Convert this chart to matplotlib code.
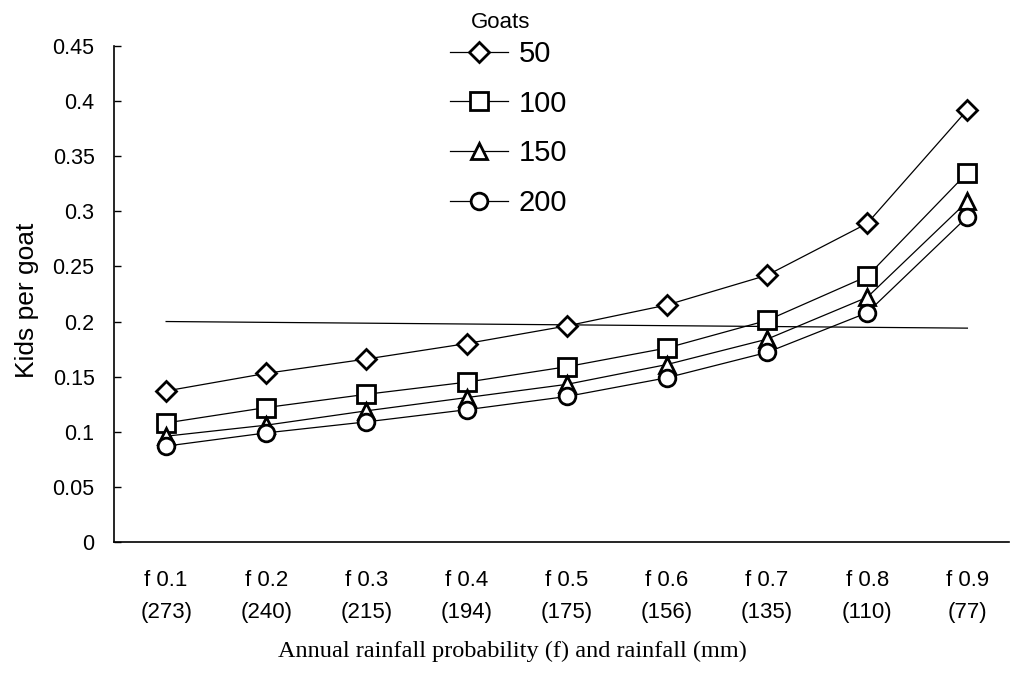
import numpy as np
import matplotlib.pyplot as plt

# Data
prob_labels = ['f 0.1', 'f 0.2', 'f 0.3', 'f 0.4', 'f 0.5', 'f 0.6', 'f 0.7', 'f 0.8', 'f 0.9']
rainfall_mm = ['273', '240', '215', '194', '175', '156', '135', '110', '77']

goats_50 = [0.137, 0.153, 0.166, 0.180, 0.196, 0.215, 0.242, 0.289, 0.392]
goats_100 = [0.108, 0.122, 0.134, 0.145, 0.159, 0.176, 0.201, 0.241, 0.335]
goats_150 = [0.096, 0.106, 0.119, 0.131, 0.143, 0.161, 0.184, 0.222, 0.309]
goats_200 = [0.087, 0.099, 0.109, 0.120, 0.132, 0.149, 0.172, 0.208, 0.295]

threshold = [0.200, 0.194]  # reference line, start and end

series = [goats_50, goats_100, goats_150, goats_200]
markers = ['D', 's', '^', 'o']
sizes = [10, 12.5, 12, 12]
labels = ['50', '100', '150', '200']

fig = plt.figure(figsize=(10.21, 6.75), dpi=100)
ax = fig.add_axes([0.1117, 0.197, 0.877, 0.735])

x = np.arange(len(prob_labels))

# Threshold line
ax.plot([x[0], x[-1]], threshold, color='black', lw=0.9)

for vals, m, ms, lab in zip(series, markers, sizes, labels):
    ax.plot(x, vals, color='black', lw=0.9, marker=m, markersize=ms,
            markerfacecolor='white', markeredgecolor='black', markeredgewidth=2,
            label=lab)

ax.set_ylim(0, 0.45)
ax.set_xlim(-0.52, 8.42)
ax.set_yticks(np.arange(0, 0.451, 0.05))
ax.set_yticklabels(['0', '0.05', '0.1', '0.15', '0.2', '0.25', '0.3', '0.35', '0.4', '0.45'],
                   fontsize=15.5, family='Liberation Sans')
ax.set_xticks(x)
ax.set_xticklabels([p + '\n(' + r + ')' for p, r in zip(prob_labels, rainfall_mm)],
                   fontsize=16, family='Liberation Sans', linespacing=1.7)
ax.tick_params(axis='x', length=0, pad=20)
ax.tick_params(axis='y', direction='in', length=5, width=1, pad=14)

for s in ['top', 'right']:
    ax.spines[s].set_visible(False)
for s in ['left', 'bottom']:
    ax.spines[s].set_linewidth(1.2)

ax.set_ylabel('Kids per goat', fontsize=19, family='Liberation Sans')
ax.yaxis.set_label_coords(-0.0835, 0.488)
ax.set_xlabel('Annual rainfall probability (f) and rainfall (mm)', fontsize=17.5,
              family='Liberation Serif')
ax.xaxis.set_label_coords(0.445, -0.2)

fig.text(501 / 1021, 1 - 22.5 / 675, 'Goats', ha='center', va='center',
         fontsize=16, family='Liberation Sans')

leg = fig.legend(*ax.get_legend_handles_labels(), loc='upper left',
                 bbox_to_anchor=(450 / 1021, 1 - 40 / 675), frameon=False,
                 fontsize=21, handlelength=2.0,
                 labelspacing=0.74, handletextpad=0.35, borderpad=0,
                 borderaxespad=0)
for t in leg.get_texts():
    t.set_family('Liberation Sans')

fig.savefig('out.png', dpi=100)
